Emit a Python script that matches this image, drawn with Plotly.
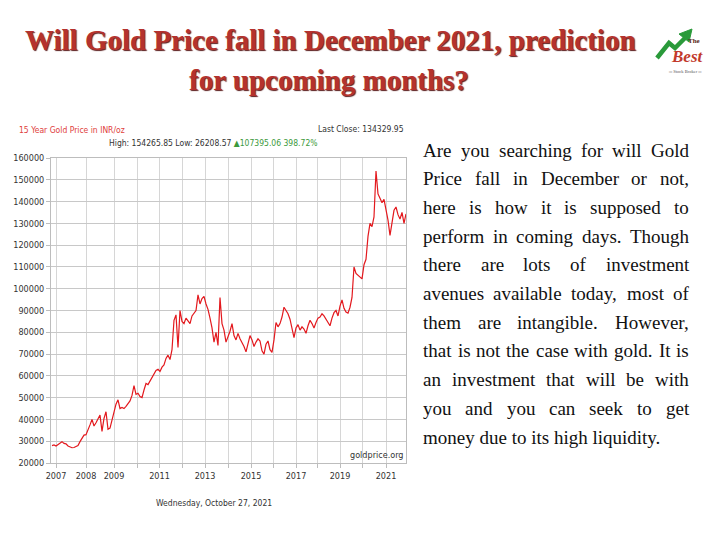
import plotly.graph_objects as go

# page and plot geometry, in pixels of the 720x540 page
WIDTH, HEIGHT = 720, 540
PLOT_LEFT, PLOT_RIGHT, PLOT_TOP, PLOT_BOTTOM = 51, 406, 158, 463

# the price chart: evenly spaced samples along the 15 year window (Oct 2006 - Oct 2021)
YEAR_TICKS = [2, 17, 31, 42.5, 53.75, 65, 76.5, 88, 99.5, 110.5, 122, 132.5, 144, 155, 167]
YEAR_LABELS = ['2007', '2008', '2009', '', '2011', '', '2013', '', '2015', '', '2017', '',
               '2019', '', '2021']
PRICE_TICKS = list(range(20000, 160001, 10000))
GOLD_PRICE = [
    28000, 28300, 27800, 28500, 29500, 29800, 29000, 28800, 27800, 27200,
    27000, 27100, 27500, 28000, 29800, 31500, 32800, 33000, 35700, 37500,
    40000, 37000, 38500, 40500, 42000, 34500, 40500, 43500, 35500, 36000,
    40000, 42500, 47000, 49000, 45000, 45500, 45000, 46000, 47000, 48500,
    51000, 55500, 51500, 52000, 50500, 50000, 53500, 56500, 56000, 57500,
    59500, 61000, 62500, 63000, 62000, 64000, 65000, 68000, 69500, 67500,
    72000, 85500, 88000, 73000, 90000, 85000, 84000, 86500, 85000, 84000,
    87500, 88500, 90000, 97200, 93000, 95500, 96500, 93000, 90500, 86500,
    82000, 75500, 80000, 74000, 96000, 84000, 81000, 75500, 78000, 80500,
    84000, 78500, 76500, 79500, 77000, 75500, 73500, 71000, 75000, 78500,
    76500, 73500, 75500, 77000, 76000, 71500, 70000, 74500, 76000, 72000,
    70800, 76500, 84500, 82500, 84000, 87000, 91500, 90000, 88500, 86000,
    82000, 77500, 82000, 83500, 81000, 82500, 81500, 79500, 83000, 85500,
    84000, 82000, 84500, 86500, 87000, 88500, 87500, 86000, 84500, 83000,
    86500, 89000, 90000, 87500, 92000, 94900, 91000, 89300, 88800, 91500,
    96000, 110000, 107000, 106000, 105500, 104500, 111000, 113500, 124000, 130000,
    128500, 133000, 154000, 143500, 141500, 139500, 141000, 136500, 131500, 124500,
    130000, 136000, 137500, 134000, 132000, 135000, 130000, 134300,
]

TITLE_LINES = ['Will Gold Price fall in December 2021, prediction', 'for upcoming months?']
PARAGRAPH = [
    'Are you searching for will Gold',
    'Price fall in December or not,',
    'here is how it is supposed to',
    'perform in coming days. Though',
    'there are lots of investment',
    'avenues available today, most of',
    'them are intangible. However,',
    'that is not the case with gold. It is',
    'an investment that will be with',
    'you and you can seek to get',
    'money due to its high liquidity.',
]

NARROW = 'Liberation Sans Narrow, Arial Narrow, DejaVu Sans Condensed, sans-serif'
SERIF = 'Liberation Serif, Times New Roman, serif'

# Times New Roman advance widths (1/1000 em), used to justify the paragraph
TIMES_WIDTHS = dict(zip('abcdefghijklmnopqrstuvwxyz',
                        [444, 500, 444, 500, 444, 333, 500, 500, 278, 278, 500, 278, 778,
                         500, 500, 500, 500, 333, 389, 278, 500, 500, 722, 500, 500, 444]))
TIMES_WIDTHS.update(zip('ABCDEFGHIJKLMNOPQRSTUVWXYZ',
                        [722, 667, 667, 722, 611, 556, 722, 722, 333, 389, 722, 611, 889,
                         722, 722, 556, 722, 667, 556, 611, 722, 722, 944, 722, 722, 611]))
TIMES_WIDTHS.update({',': 250, '.': 250, ' ': 250})


def px_x(px: float) -> float:
    """Page pixel column -> paper x."""
    return (px - PLOT_LEFT) / (PLOT_RIGHT - PLOT_LEFT)


def px_y(py: float) -> float:
    """Page pixel row -> paper y."""
    return (PLOT_BOTTOM - py) / (PLOT_BOTTOM - PLOT_TOP)


def word_width(word: str, size: float) -> float:
    return sum(TIMES_WIDTHS.get(c, 500) for c in word) * size / 1000


def note(fig: go.Figure, text: str, x: float, y: float, size: float, color: str,
         family: str = NARROW, anchor: str = 'center', **font_extra) -> None:
    fig.add_annotation(text=text, x=px_x(x), y=px_y(y), xref='paper', yref='paper',
                       xanchor=anchor, yanchor='middle', showarrow=False, borderpad=0,
                       font=dict(family=family, size=size, color=color, **font_extra))


def add_paragraph(fig: go.Figure) -> None:
    """Justified text block to the right of the chart (last line left aligned)."""
    left, right, size = 422, 688, 19
    for n, line in enumerate(PARAGRAPH):
        y = 150 + 28.7 * n
        words = line.split(' ')
        if n == len(PARAGRAPH) - 1:
            note(fig, line, left, y, size, '#111111', SERIF, 'left')
            continue
        widths = [word_width(w, size) for w in words]
        gap = (right - left - sum(widths)) / (len(words) - 1)
        x = left
        for word, w in zip(words, widths):
            note(fig, word, x, y, size, '#111111', SERIF, 'left')
            x += w + gap


def add_logo(fig: go.Figure) -> None:
    """Small 'The Best Stock Broker' badge in the top right corner."""
    pts = [(657, 58), (669, 43), (675, 48), (685, 38)]
    path = 'M ' + ' L '.join(f'{px_x(a)},{px_y(b)}' for a, b in pts)
    fig.add_shape(type='path', path=path, xref='paper', yref='paper',
                  line=dict(color='#2a9a3a', width=4.5))
    head = [(679, 34), (692, 29), (689, 42)]
    path = 'M ' + ' L '.join(f'{px_x(a)},{px_y(b)}' for a, b in head) + ' Z'
    fig.add_shape(type='path', path=path, xref='paper', yref='paper',
                  fillcolor='#2a9a3a', line=dict(color='#2a9a3a', width=1))
    note(fig, 'The', 694, 41, 7, '#5a2a20', SERIF, weight='bold')
    note(fig, 'Best', 687, 57, 17, '#c23a2c', SERIF, weight='bold', style='italic')
    note(fig, '═ Stock Broker ═', 685, 71, 4.5, '#555555', SERIF)


fig = go.Figure()
fig.add_trace(go.Scatter(x=list(range(len(GOLD_PRICE))), y=GOLD_PRICE, mode='lines',
                         line=dict(color='#e3191e', width=1.2), hoverinfo='y', showlegend=False))

axis_style = dict(showgrid=True, gridwidth=1, zeroline=False,
                  showline=True, linecolor='#bdbdbd', mirror=True,
                  ticks='outside', ticklen=4, tickcolor='#bdbdbd',
                  tickfont=dict(family=NARROW, size=9, color='#333333'))
fig.update_xaxes(range=[-0.5, 177], tickvals=YEAR_TICKS, ticktext=YEAR_LABELS,
                 gridcolor='#d6d6d6', **axis_style)
fig.update_yaxes(range=[20000, 160000], tickvals=PRICE_TICKS,
                 ticktext=[str(v) for v in PRICE_TICKS], gridcolor='#c8c8c8', **axis_style)

# headline
title_font = dict(weight='bold', shadow='1px 1px 1px #5b1c1c')
note(fig, TITLE_LINES[0], 330, 40, 29, '#b5322d', SERIF, **title_font)
note(fig, TITLE_LINES[1], 329, 80, 29, '#b5322d', SERIF, **title_font)

# chart captions
note(fig, '15 Year Gold Price in INR/oz', 18, 130, 8.5, '#e0403c', anchor='left')
note(fig, 'Last Close: 134329.95', 405, 129, 8.5, '#333333', anchor='right')
note(fig, "High: 154265.85 Low: 26208.57 <span style='color:#3c9a3c'>▲107395.06 398.72%</span>",
     213, 143, 8.5, '#333333')
note(fig, 'goldprice.org', 404, 455, 9, '#333333', anchor='right')
note(fig, 'Wednesday, October 27, 2021', 214, 503, 8.5, '#333333')

add_paragraph(fig)
add_logo(fig)

fig.update_layout(width=WIDTH, height=HEIGHT, autosize=False,
                  margin=dict(l=PLOT_LEFT, r=WIDTH - PLOT_RIGHT, t=PLOT_TOP, b=HEIGHT - PLOT_BOTTOM),
                  paper_bgcolor='white', plot_bgcolor='white')

# the page's default body margin would push the figure 8px off the window
fig.write_html('out.html', config={'displayModeBar': False},
               post_script="document.body.style.margin = '0';")
